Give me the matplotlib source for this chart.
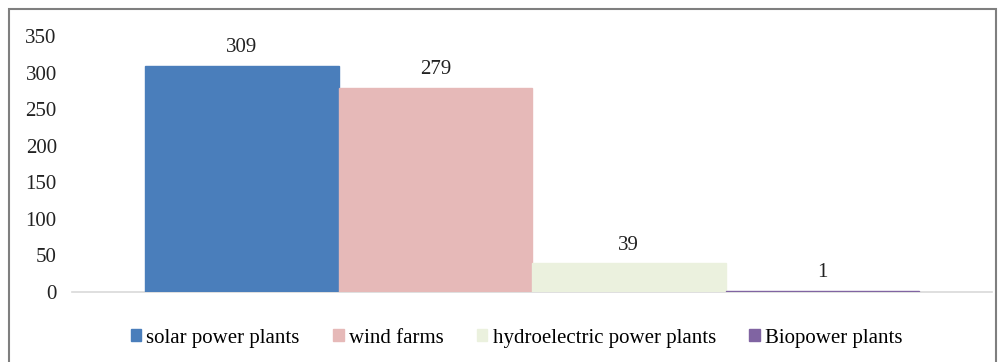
import matplotlib.pyplot as plt
from matplotlib.patches import Rectangle

# Power plant counts by type
plant_types = ["solar power plants", "wind farms",
               "hydroelectric power plants", "Biopower plants"]
plant_counts = [309, 279, 39, 1]
bar_colors = ["#4a7ebb", "#e6b9b8", "#ebf1de", "#8064a2"]
y_ticks = [0, 50, 100, 150, 200, 250, 300, 350]

plt.rcParams["font.family"] = ["Liberation Serif", "DejaVu Serif"]

fig = plt.figure(figsize=(10.02, 3.62), dpi=100)
ax = fig.add_axes([0.0719, 0.1934, 0.9181, 0.7072])

handles = []
for i, (name, val, col) in enumerate(zip(plant_types, plant_counts, bar_colors)):
    h = ax.bar(i, val, width=1.0, color=col, edgecolor=col, linewidth=1.0,
               label=name, zorder=2)
    handles.append(h)
    ax.text(i, val + 12, f"{val}", ha="center", va="bottom",
            fontsize=15, color="#222222")

ax.set_xlim(-0.877, 3.877)
ax.set_ylim(0, 350)
ax.set_yticks(y_ticks)
ax.set_xticks([])
ax.tick_params(axis="y", length=0, labelsize=15, labelcolor="#222222", pad=11)

for side in ["top", "right", "left"]:
    ax.spines[side].set_visible(False)
ax.spines["bottom"].set_color("#d9d9d9")
ax.spines["bottom"].set_linewidth(1.2)
ax.spines["bottom"].set_zorder(1)

fig.legend(handles=handles, loc="center", bbox_to_anchor=(0.5155, 0.066),
           ncol=4, frameon=False, fontsize=15, handlelength=0.5,
           handleheight=0.5, handletextpad=0.25, columnspacing=1.6)

# outer frame around the chart
fig.patches.append(Rectangle((9 / 1002, -0.1), 987 / 1002, 1.1 - 9 / 362,
                             transform=fig.transFigure, fill=False,
                             edgecolor="#7f7f7f", linewidth=1.5))

fig.savefig("out.png", dpi=100)
